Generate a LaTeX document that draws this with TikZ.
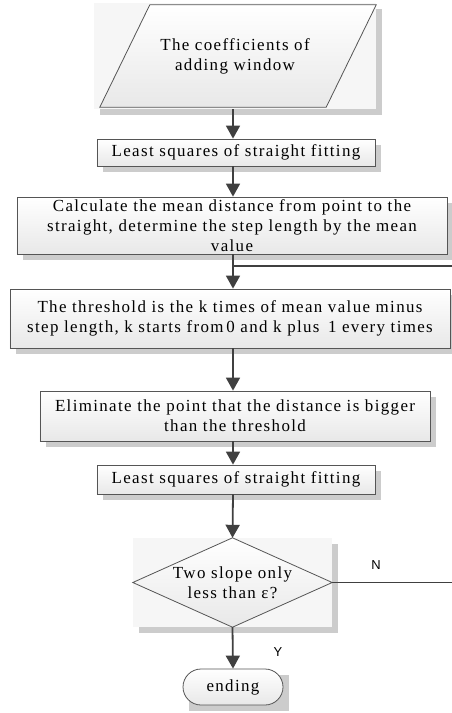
\documentclass[tikz,border=0pt]{standalone}
\usepackage{fontspec}
\setmainfont{Liberation Serif}[LetterSpace=8]
\newfontfamily\labfont{Liberation Sans}
\usetikzlibrary{arrows.meta,calc,backgrounds,positioning}
\definecolor{edgecol}{RGB}{85,85,85}
\definecolor{linecol}{RGB}{64,64,64}
\definecolor{shadowcol}{RGB}{204,204,204}
\definecolor{boxlow}{RGB}{232,232,232}

\begin{document}
\begin{tikzpicture}[x=1bp,y=-1bp,>={Triangle[width=14bp,length=13bp]},
    font=\fontsize{17}{20}\selectfont,
    box/.style={draw=edgecol,line width=0.8bp,top color=white,bottom color=boxlow,
      align=center,inner sep=0pt},
    flow/.style={->,linecol,line width=1.8bp},
    wire/.style={linecol,line width=1.8bp},
    tag/.style={font=\labfont\fontsize{13}{15}\selectfont}]
  \useasboundingbox (0,0) rectangle (452,713);
  \coordinate (axis) at (233,0);
  % boxes, top to bottom
  \node[align=center,minimum width=282bp,minimum height=106bp,inner sep=0pt] (coef) at (235,56)
     {The coefficients of\\adding window};
  \node[box,minimum width=278bp,minimum height=27bp] (lsq1) at (236,152.5)
     {Least squares of straight fitting};
  \node[box,minimum width=430bp,minimum height=57bp] (calc) at (232,225.5)
     {Calculate the mean distance from point to the\\straight, determine the step length by the mean\\value};
  \node[box,minimum width=440bp,minimum height=59bp] (thr) at (230,318.5)
     {The threshold is the k times of mean value minus\\step length, k starts from\,0 and k plus\enspace1 every times};
  \node[box,minimum width=390bp,minimum height=50bp] (elim) at (235,416)
     {Eliminate the point that the distance is bigger\\than the threshold};
  \node[box,minimum width=278bp,minimum height=29bp] (lsq2) at (236,479.5)
     {Least squares of straight fitting};
  \node[align=center,minimum width=199bp,minimum height=89bp,inner sep=0pt] (dec) at (232.5,582.5)
     {Two slope only\\less than ε?};
  \node[box,rounded corners=18bp,minimum width=100bp,minimum height=36bp] (ending) at (233,687)
     {ending};
  % shadows and outlines behind the text
  \begin{scope}[on background layer]
    \foreach \n in {coef,lsq1,calc,thr,elim,lsq2,dec,ending}
      \fill[shadowcol] ($(\n.north west)+(6,6)$) rectangle ($(\n.south east)+(6,6)$);
    \fill[white!60!boxlow] (coef.north west) rectangle (coef.south east);
    \fill[white!60!boxlow] (dec.north west) rectangle (dec.south east);
    \draw[box] ($(coef.north west)+(56,2)$) -- ($(coef.north east)+(0,2)$)
      -- ($(coef.south east)+(-50,-2)$) -- ($(coef.south west)+(6,-2)$) -- cycle;
    \draw[box] (dec.north) -- (dec.east) -- (dec.south) -- (dec.west) -- cycle;
  \end{scope}
  % connectors
  \coordinate (back) at (452,266);
  \coordinate (retry) at (452,582.5);
  \draw[flow] (coef.south -| axis) -- (lsq1.north -| axis);
  \draw[flow] (lsq1.south -| axis) -- (calc.north -| axis);
  \draw[flow] (calc.south -| axis) -- (thr.north -| axis);
  \draw[wire] (axis |- back) -- (back);
  \draw[flow] (thr.south -| axis) -- (elim.north -| axis);
  \draw[flow] (elim.south -| axis) -- (lsq2.north -| axis);
  \draw[flow] (lsq2.south -| axis) -- (dec.north);
  \draw[wire] (dec.east) -- (retry);
  \draw[flow] (dec.south) -- (ending.north);
  \node[tag] (no) at (376,565) {N};
  \node[tag] (yes) at (278,652) {Y};
\end{tikzpicture}
\end{document}
